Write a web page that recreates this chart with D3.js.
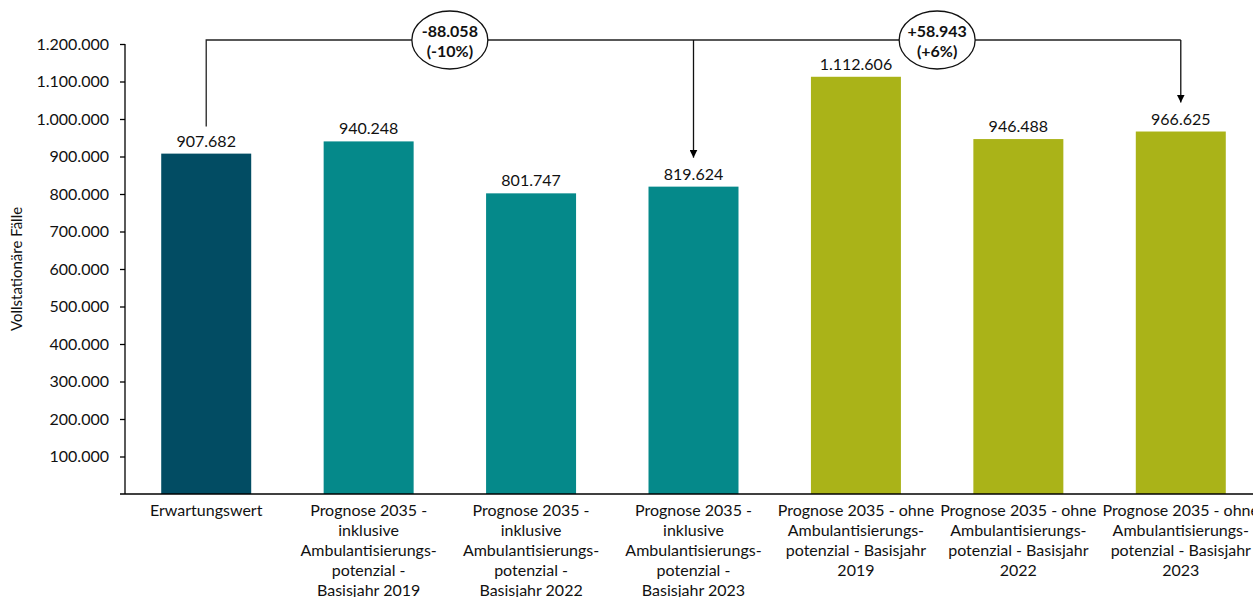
<!DOCTYPE html>
<html>
<head>
<meta charset="utf-8">
<script src="https://cdn.jsdelivr.net/npm/d3@7"></script>
<style>
  body { margin: 0; background: #fff; }
  svg { display: block; font-family: Lato, "Open Sans", sans-serif; }
</style>
</head>
<body>
<svg id="chart" width="1253" height="597"></svg>
<script>
var categories = [
  ["Erwartungswert"],
  ["Prognose 2035 -", "inklusive", "Ambulantisierungs-", "potenzial -", "Basisjahr 2019"],
  ["Prognose 2035 -", "inklusive", "Ambulantisierungs-", "potenzial -", "Basisjahr 2022"],
  ["Prognose 2035 -", "inklusive", "Ambulantisierungs-", "potenzial -", "Basisjahr 2023"],
  ["Prognose 2035 - ohne", "Ambulantisierungs-", "potenzial - Basisjahr", "2019"],
  ["Prognose 2035 - ohne", "Ambulantisierungs-", "potenzial - Basisjahr", "2022"],
  ["Prognose 2035 - ohne", "Ambulantisierungs-", "potenzial - Basisjahr", "2023"]
];
var values = [907682, 940248, 801747, 819624, 1112606, 946488, 966625];
var groups = ["base", "inkl", "inkl", "inkl", "ohne", "ohne", "ohne"];
var yTicks = [100000, 200000, 300000, 400000, 500000, 600000, 700000, 800000, 900000, 1000000, 1100000, 1200000];

// Vergleiche oben: von Balken -> zu Balken
var deltaFrom = [0, 3];
var deltaTo = [3, 6];
var deltaText = [["-88.058", "(-10%)"], ["+58.943", "(+6%)"]];

var colors = { base: "#024c63", inkl: "#05898a", ohne: "#aab318" };

var de = d3.formatLocale({ decimal: ",", thousands: ".", grouping: [3], currency: ["", " €"] });
var fmt = de.format(",.0f");

var svg = d3.select("#chart");
var mLeft = 125, mRight = 1262, mTop = 44, mBottom = 494;

var x = d3.scaleBand().domain(d3.range(values.length)).range([mLeft, mRight]).paddingInner(0.446).paddingOuter(0.223);
var y = d3.scaleLinear().domain([0, 1200000]).range([mBottom, mTop]);

// y axis
var yAxis = svg.append("g").attr("transform", "translate(" + mLeft + ",0)")
  .call(d3.axisLeft(y).tickValues(yTicks).tickFormat(fmt).tickSize(5).tickSizeOuter(0));
yAxis.select(".domain").attr("stroke", "#000").attr("stroke-width", 1.3).attr("d", "M0," + mTop + "V" + mBottom);
yAxis.selectAll(".tick line").attr("stroke", "#000").attr("stroke-width", 1.3);
yAxis.selectAll(".tick text").attr("font-size", 16).attr("fill", "#111").attr("x", -16)
  .style("font-family", "Lato, sans-serif");

svg.append("text")
  .attr("transform", "translate(22," + ((mTop + mBottom) / 2) + ") rotate(-90)")
  .attr("text-anchor", "middle").attr("font-size", 15).attr("fill", "#111")
  .text("Vollstationäre Fälle");

// bars
svg.selectAll("rect.bar").data(values).enter().append("rect")
  .attr("class", "bar")
  .attr("x", function(d, i) { return x(i); })
  .attr("width", x.bandwidth())
  .attr("y", function(d) { return y(d); })
  .attr("height", function(d) { return y(0) - y(d); })
  .attr("fill", function(d, i) { return colors[groups[i]]; });

// baseline
svg.append("line").attr("x1", mLeft - 5).attr("x2", 1253).attr("y1", mBottom).attr("y2", mBottom)
  .attr("stroke", "#000").attr("stroke-width", 1.3);

// value labels
svg.selectAll("text.val").data(values).enter().append("text")
  .attr("class", "val")
  .attr("x", function(d, i) { return x(i) + x.bandwidth() / 2; })
  .attr("y", function(d) { return y(d) - 7; })
  .attr("text-anchor", "middle").attr("font-size", 16).attr("fill", "#111")
  .text(function(d) { return fmt(d); });

// category labels
var cat = svg.selectAll("text.cat").data(categories).enter().append("text")
  .attr("class", "cat")
  .attr("text-anchor", "middle").attr("font-size", 16).attr("fill", "#111");
cat.selectAll("tspan").data(function(d, i) { return d.map(function(s) { return { s: s, i: i }; }); })
  .enter().append("tspan")
  .attr("x", function(d) { return x(d.i) + x.bandwidth() / 2; })
  .attr("y", function(d, j) { return 516 + j * 20; })
  .text(function(d) { return d.s; });

// annotations
var lineY = 40;
var defs = svg.append("defs");
defs.append("marker").attr("id", "arr").attr("viewBox", "0 0 10 10")
  .attr("refX", 10).attr("refY", 5).attr("markerWidth", 8).attr("markerHeight", 8)
  .attr("markerUnits", "userSpaceOnUse").attr("orient", "auto")
  .append("path").attr("d", "M0,0L10,5L0,10Z").attr("fill", "#000");

function cx(i) { return x(i) + x.bandwidth() / 2; }

svg.append("path")
  .attr("d", "M" + cx(0) + "," + (y(values[0]) - 27) + "V" + lineY + "H" + cx(6))
  .attr("fill", "none").attr("stroke", "#222").attr("stroke-width", 1.3);

deltaTo.forEach(function(t) {
  svg.append("line").attr("x1", cx(t)).attr("x2", cx(t)).attr("y1", lineY).attr("y2", y(values[t]) - 29)
    .attr("stroke", "#111").attr("stroke-width", 1.3).attr("marker-end", "url(#arr)");
});

deltaFrom.forEach(function(f, k) {
  var mx = (cx(f) + cx(deltaTo[k])) / 2;
  svg.append("ellipse").attr("cx", mx).attr("cy", lineY).attr("rx", 38).attr("ry", 29)
    .attr("fill", "#fff").attr("stroke", "#111").attr("stroke-width", 1.3);
  svg.append("text").attr("x", mx).attr("y", lineY - 3).attr("text-anchor", "middle")
    .attr("font-size", 16).attr("font-weight", "bold").attr("fill", "#111").text(deltaText[k][0]);
  svg.append("text").attr("x", mx).attr("y", lineY + 17).attr("text-anchor", "middle")
    .attr("font-size", 16).attr("font-weight", "bold").attr("fill", "#111").text(deltaText[k][1]);
});
</script>
</body>
</html>
